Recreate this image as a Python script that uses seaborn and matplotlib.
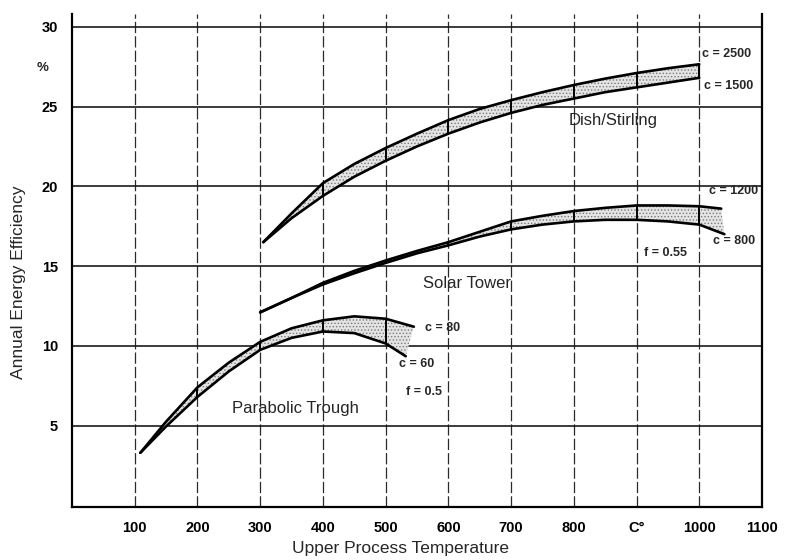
import numpy as np
import pandas as pd
import matplotlib
matplotlib.use("Agg")
import matplotlib.pyplot as plt
import seaborn as sns
from matplotlib.ticker import FixedLocator, MultipleLocator
import matplotlib.transforms as mtransforms

# ---- data ----
dish_up_x = [305, 350, 400, 450, 500, 550, 600, 650, 700, 750, 800, 850, 900, 950, 1000]
dish_up_y = [16.5, 18.3, 20.2, 21.4, 22.4, 23.3, 24.15, 24.85, 25.4, 25.9, 26.35, 26.75, 27.1, 27.4, 27.65]
dish_lo_x = [305, 350, 400, 450, 500, 550, 600, 650, 700, 750, 800, 850, 900, 950, 1000]
dish_lo_y = [16.5, 18.0, 19.4, 20.6, 21.6, 22.5, 23.3, 24.0, 24.6, 25.1, 25.5, 25.9, 26.2, 26.5, 26.8]

tower_up_x = [300, 350, 400, 450, 500, 550, 600, 650, 700, 750, 800, 850, 900, 950, 1000, 1035]
tower_up_y = [12.1, 13.0, 13.95, 14.7, 15.35, 15.95, 16.5, 17.15, 17.8, 18.15, 18.45, 18.65, 18.8, 18.8, 18.75, 18.6]
tower_lo_x = [300, 350, 400, 450, 500, 550, 600, 650, 700, 750, 800, 850, 900, 950, 1000, 1040]
tower_lo_y = [12.1, 13.0, 13.85, 14.55, 15.2, 15.8, 16.3, 16.85, 17.3, 17.6, 17.8, 17.9, 17.9, 17.8, 17.6, 17.0]

trough_up_x = [109, 150, 200, 250, 300, 350, 400, 450, 500, 545]
trough_up_y = [3.3, 5.25, 7.4, 8.95, 10.25, 11.1, 11.6, 11.85, 11.7, 11.2]
trough_lo_x = [109, 150, 200, 250, 300, 350, 400, 450, 500, 532]
trough_lo_y = [3.3, 4.95, 6.8, 8.4, 9.75, 10.5, 10.9, 10.8, 10.15, 9.35]

x_ticks = [100, 200, 300, 400, 500, 600, 700, 800, 900, 1000, 1100]
x_tick_labels = ["100", "200", "300", "400", "500", "600", "700", "800", "C°", "1000", "1100"]
y_ticks = [5, 10, 15, 20, 25, 30]
y_tick_labels = ["5", "10", "15", "20", "25", "30"]

bands = [
    ("Dish/Stirling", dish_up_x, dish_up_y, dish_lo_x, dish_lo_y),
    ("Solar Tower", tower_up_x, tower_up_y, tower_lo_x, tower_lo_y),
    ("Parabolic Trough", trough_up_x, trough_up_y, trough_lo_x, trough_lo_y),
]

# ---- style ----
sns.set_style("white")
plt.rcParams['font.family'] = ['Liberation Sans', 'DejaVu Sans']
plt.rcParams['hatch.color'] = '#7a7a7a'
plt.rcParams['hatch.linewidth'] = 0.6

fig = plt.figure(figsize=(7.93, 5.6), dpi=100)
ax = fig.add_axes([72 / 793, 53 / 560, 690 / 793, 493 / 560])
ax.set_xlim(0, 1100)
ax.set_ylim(-0.1, 30.8)

for name, ux, uy, lx, ly in bands:
    # stippled band
    ax.fill(np.r_[ux, lx[::-1]], np.r_[uy, ly[::-1]], facecolor='#e4e4e4',
            edgecolor='#7a7a7a', hatch='.....', linewidth=0, zorder=1.5)
    df = pd.concat([
        pd.DataFrame({"x": ux, "eff": uy, "curve": "upper"}),
        pd.DataFrame({"x": lx, "eff": ly, "curve": "lower"}),
    ])
    sns.lineplot(data=df, x="x", y="eff", units="curve", estimator=None,
                 color="black", linewidth=1.9, ax=ax, legend=False, zorder=3,
                 solid_joinstyle='round')
    # solid dividers where the grid crosses the band
    for g in x_ticks:
        if max(ux[0], lx[0]) < g <= min(ux[-1], lx[-1]):
            ax.vlines(g, np.interp(g, lx, ly), np.interp(g, ux, uy),
                      color='black', linewidth=1.4, zorder=3)

# ---- grid ----
ax.set_axisbelow(True)
ax.yaxis.grid(True, which='major', color='#1a1a1a', linewidth=1.2)
ax.xaxis.grid(True, which='major', color='#2a2a2a', linewidth=0.9,
              linestyle=(0, (9, 2.5)))

# ---- axes / ticks ----
ax.xaxis.set_major_locator(FixedLocator(x_ticks))
ax.set_xticklabels(x_tick_labels)
ax.xaxis.set_minor_locator(MultipleLocator(50))
ax.yaxis.set_major_locator(FixedLocator(y_ticks))
ax.set_yticklabels(y_tick_labels)
ax.yaxis.set_minor_locator(MultipleLocator(1))
ax.tick_params(axis='both', which='major', direction='out', length=7, width=1.3,
               colors='black', labelsize=10.5, pad=3)
ax.tick_params(axis='both', which='minor', direction='out', length=3.5, width=1.1,
               colors='black')
for lbl in ax.get_xticklabels() + ax.get_yticklabels():
    lbl.set_fontweight('bold')

for s in ['left', 'bottom', 'right']:
    ax.spines[s].set_color('black')
    ax.spines[s].set_linewidth(1.6)
ax.spines['top'].set_visible(False)

ax.set_xlabel("Upper Process Temperature", fontsize=12.5)
ax.set_ylabel("Annual Energy Efficiency", fontsize=12.5)
ax.xaxis.set_label_coords(0.476, -0.068)
ax.yaxis.set_label_coords(-0.066, 0.456)

# ---- annotations ----
ax.text(862, 24.1, "Dish/Stirling", fontsize=12, ha='center', va='center')
ax.text(630, 13.9, "Solar Tower", fontsize=12, ha='center', va='center')
ax.text(357, 6.05, "Parabolic Trough", fontsize=12, ha='center', va='center')

small = dict(fontsize=9, fontweight='bold', ha='left', va='center')
ax.text(1005, 28.3, "c = 2500", **small)
ax.text(1008, 26.3, "c = 1500", **small)
ax.text(1015, 19.7, "c = 1200", **small)
ax.text(1022, 16.6, "c = 800", **small)
ax.text(912, 15.8, "f = 0.55", **small)
ax.text(562, 11.15, "c = 80", **small)
ax.text(522, 8.88, "c = 60", **small)
ax.text(532, 7.1, "f = 0.5", **small)

trans = mtransforms.blended_transform_factory(ax.transAxes, ax.transData)
ax.text(-0.042, 27.4, "%", transform=trans, fontsize=9.5, fontweight='bold',
        ha='center', va='center')

fig.savefig("out.png", dpi=100)
